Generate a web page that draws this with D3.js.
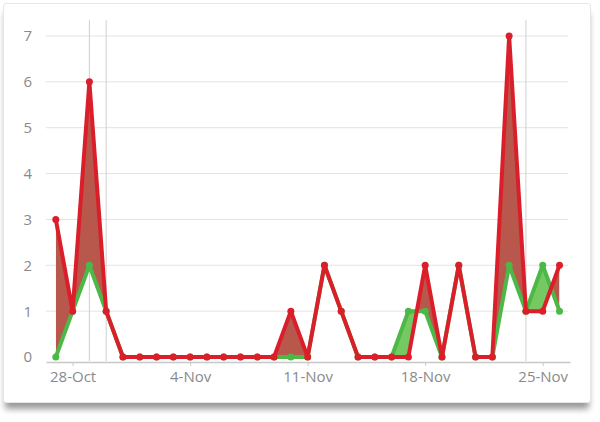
<!DOCTYPE html>
<html>
<head>
<meta charset="utf-8">
<script src="https://cdn.jsdelivr.net/npm/d3@7"></script>
<style>
  html, body { margin: 0; padding: 0; background: #fff; }
  body { width: 600px; height: 422px; overflow: hidden; position: relative; }
  #card { position: absolute; left: 3px; top: 3px; width: 586px; height: 398px;
          background: #fff; border: 1px solid #e6e6e6; border-radius: 3px;
          box-shadow: 0 8px 6px -2px rgba(0,0,0,0.4); }
  svg { position: absolute; left: 0; top: 0; }
  text { font-family: "Open Sans", "DejaVu Sans", sans-serif; }
</style>
</head>
<body>
<div id="card"></div>
<svg id="chart" width="600" height="422"></svg>
<script>
const startDate = "2013-10-27";
const redValues   = [3,1,6,1,0,0,0,0,0,0,0,0,0,0,1,0,2,1,0,0,0,0,2,0,2,0,0,7,1,1,2];
const greenValues = [0,1,2,1,0,0,0,0,0,0,0,0,0,0,0,0,2,1,0,0,0,1,1,0,2,0,0,2,1,2,1];
const markerDates = ["2013-10-29","2013-10-30","2013-11-24"];
const tickDates = ["2013-10-28","2013-11-04","2013-11-11","2013-11-18","2013-11-25"];
const yTicks = [0,1,2,3,4,5,6,7];

const parse = d3.utcParse("%Y-%m-%d");
const day0 = parse(startDate);
const data = redValues.map((r, i) => ({
  date: d3.utcDay.offset(day0, i), red: r, green: greenValues[i]
}));

const svg = d3.select("#chart");
const mLeft = 46, mRight = 570, mTop = 36, mBottom = 357;

const x = d3.scaleUtc()
  .domain([d3.utcHour.offset(data[0].date, -14), d3.utcHour.offset(data[data.length-1].date, 15)])
  .range([mLeft, mRight]);
const y = d3.scaleLinear().domain([0, 7]).range([mBottom, mTop]);

// gridlines
svg.append("g").selectAll("line").data(yTicks.filter(d => d > 0)).join("line")
  .attr("x1", mLeft).attr("x2", mRight - 2)
  .attr("y1", d => y(d)).attr("y2", d => y(d))
  .attr("stroke", "#e3e3e3").attr("stroke-width", 1);

// y labels
svg.append("g").selectAll("text").data(yTicks).join("text")
  .attr("x", 32).attr("y", d => y(d)).attr("dy", "0.36em")
  .attr("text-anchor", "end").attr("font-size", 15).attr("fill", "#8a8a8a")
  .text(d => d);

// marker vertical lines
svg.append("g").selectAll("line").data(markerDates.map(parse)).join("line")
  .attr("x1", d => x(d)).attr("x2", d => x(d))
  .attr("y1", 20).attr("y2", 361)
  .attr("stroke", "#cfcfcf").attr("stroke-width", 1);

// x axis
const xAxis = d3.axisBottom(x)
  .tickValues(tickDates.map(parse))
  .tickFormat(d3.utcFormat("%-d-%b"))
  .tickSize(4).tickSizeOuter(0);
const gx = svg.append("g").attr("transform", `translate(0,${mBottom + 5})`).call(xAxis);
gx.select(".domain").attr("stroke", "#c8c8c8").attr("stroke-width", 1.5);
gx.selectAll(".tick line").attr("stroke", "#c8c8c8");
gx.selectAll(".tick text").attr("font-size", 15).attr("fill", "#8a8a8a")
  .attr("font-family", "'Open Sans', 'DejaVu Sans', sans-serif").attr("dy", "0.85em");

// difference fills via clip paths
const areaAbove = (key) => d3.area().x(d => x(d.date)).y0(0).y1(d => y(d[key]));
const areaBelow = (key) => d3.area().x(d => x(d.date)).y0(422).y1(d => y(d[key]));
const defs = svg.append("defs");
defs.append("clipPath").attr("id", "clipAboveGreen").append("path").attr("d", areaAbove("green")(data));
defs.append("clipPath").attr("id", "clipAboveRed").append("path").attr("d", areaAbove("red")(data));

svg.append("path").attr("clip-path", "url(#clipAboveGreen)")
  .attr("d", areaBelow("red")(data)).attr("fill", "#b8574c");
svg.append("path").attr("clip-path", "url(#clipAboveRed)")
  .attr("d", areaBelow("green")(data)).attr("fill", "#74c963");

const line = (key) => d3.line().x(d => x(d.date)).y(d => y(d[key]));
svg.append("path").attr("d", line("green")(data)).attr("fill", "none")
  .attr("stroke", "#4cb946").attr("stroke-width", 4).attr("stroke-linejoin", "round");
svg.append("g").selectAll("circle").data(data).join("circle")
  .attr("cx", d => x(d.date)).attr("cy", d => y(d.green)).attr("r", 3.5).attr("fill", "#4cb946");

svg.append("path").attr("d", line("red")(data)).attr("fill", "none")
  .attr("stroke", "#da1f2b").attr("stroke-width", 4).attr("stroke-linejoin", "round");
svg.append("g").selectAll("circle").data(data).join("circle")
  .attr("cx", d => x(d.date)).attr("cy", d => y(d.red)).attr("r", 3.5).attr("fill", "#da1f2b");
</script>
</body>
</html>
